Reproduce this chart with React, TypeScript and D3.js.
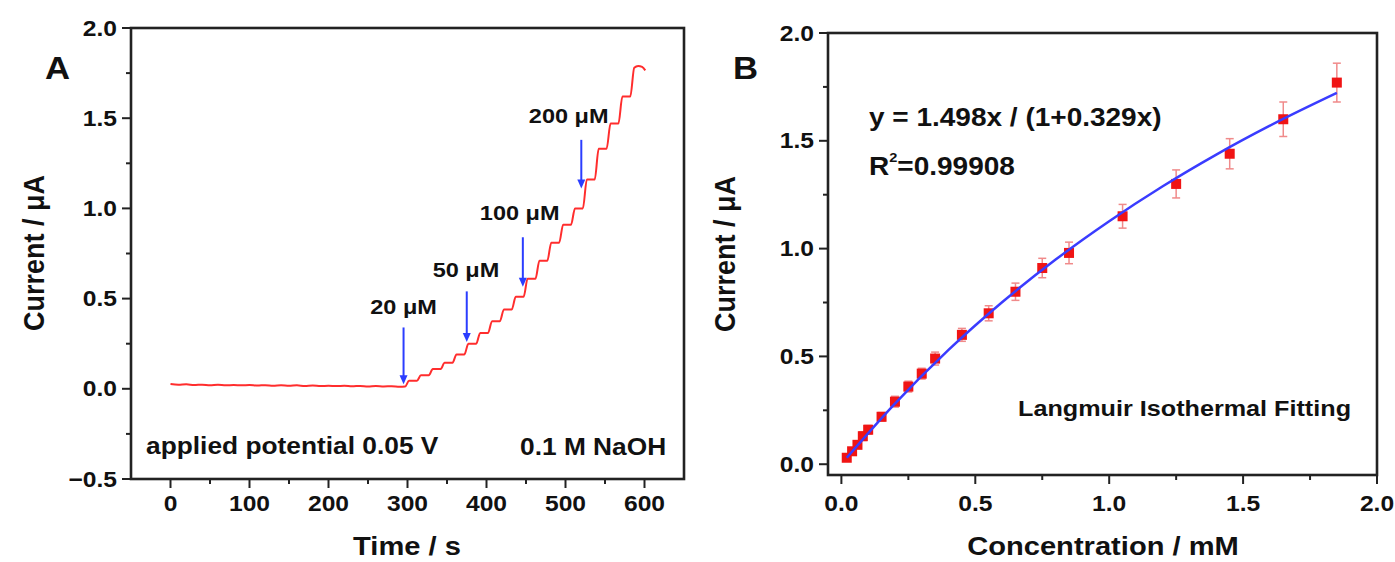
import React from "react";
import * as d3 from "d3";

// ---------- Panel A data (amperometric i-t trace) ----------
const baseTime = [0, 10, 20, 30, 40, 50, 60, 70, 80, 90, 100, 110, 120, 130, 140, 150, 160, 170, 180, 190, 200, 210, 220, 230, 240, 250, 260, 270, 280, 290, 297];
const baseCurrent = [0.026, 0.023, 0.025, 0.021, 0.023, 0.020, 0.022, 0.019, 0.021, 0.019, 0.021, 0.018, 0.020, 0.017, 0.019, 0.017, 0.019, 0.016, 0.018, 0.015, 0.017, 0.015, 0.017, 0.014, 0.016, 0.013, 0.015, 0.013, 0.014, 0.012, 0.013];
const stepTime = [297, 312, 327, 342, 357, 372, 387, 402, 417, 432, 447, 462, 477, 492, 507, 522, 537, 552, 567, 582];
const stepCurrent = [0.045, 0.075, 0.11, 0.145, 0.19, 0.25, 0.31, 0.375, 0.44, 0.51, 0.61, 0.71, 0.81, 0.91, 1.0, 1.16, 1.33, 1.47, 1.62, 1.78];
const endTime = [592, 597, 601];
const endCurrent = [1.79, 1.785, 1.765];

const arrowLabel = ["20 \u03bcM", "50 \u03bcM", "100 \u03bcM", "200 \u03bcM"];
const arrowTime = [295, 375, 446, 520];
const arrowTop = [0.34, 0.54, 0.84, 1.38];
const arrowTip = [0.025, 0.26, 0.565, 1.11];
const labelTime = [295, 374, 442, 504];
const labelCurrent = [0.455, 0.66, 0.975, 1.51];

const ticksAx = [0, 100, 200, 300, 400, 500, 600];
const ticksAy = [-0.5, 0.0, 0.5, 1.0, 1.5, 2.0];

// ---------- Panel B data (calibration) ----------
const concB = [0.02, 0.04, 0.06, 0.08, 0.10, 0.15, 0.20, 0.25, 0.30, 0.35, 0.45, 0.55, 0.65, 0.75, 0.85, 1.05, 1.25, 1.45, 1.65, 1.85];
const currB = [0.03, 0.06, 0.09, 0.13, 0.16, 0.22, 0.29, 0.36, 0.42, 0.49, 0.60, 0.70, 0.80, 0.91, 0.98, 1.15, 1.30, 1.44, 1.60, 1.77];
const errB = [0.015, 0.015, 0.015, 0.02, 0.02, 0.02, 0.025, 0.025, 0.025, 0.03, 0.03, 0.035, 0.04, 0.045, 0.05, 0.055, 0.065, 0.07, 0.08, 0.09];
const fitConc = [0.02, 0.2, 0.4, 0.6, 0.8, 1.0, 1.2, 1.4, 1.6, 1.85];
const fitCurr = [0.03, 0.281, 0.53, 0.751, 0.949, 1.127, 1.289, 1.436, 1.57, 1.722];

const ticksBx = [0.0, 0.5, 1.0, 1.5, 2.0];
const ticksBy = [0.0, 0.5, 1.0, 1.5, 2.0];

const SX = 1.12;
const FONT = "'Liberation Sans', Arial, Helvetica, sans-serif";

function T({ x, y, size, anchor = "start", children, rot = false }: any) {
  const tr = rot
    ? `translate(${x},${y}) rotate(-90) scale(1,${SX})`
    : `translate(${x},${y}) scale(${SX},1)`;
  return (
    <g transform={tr}>
      <text textAnchor={anchor} dominantBaseline="central" fontSize={size} fill="#111">
        {children}
      </text>
    </g>
  );
}

function mids(arr: number[]) {
  const out: number[] = [];
  for (let i = 0; i < arr.length - 1; i++) out.push((arr[i] + arr[i + 1]) / 2);
  return out;
}

function Frame({ x, y, majX, majY, fmtX, fmtY }: any) {
  const [x0, x1] = x.range();
  const [y0, y1] = y.range();
  const minX = mids(majX);
  const minY = mids(majY);
  return (
    <g>
      {majX.map((v: number) => (
        <line key={"mx" + v} x1={x(v)} x2={x(v)} y1={y0} y2={y0 + 9} stroke="#222" strokeWidth={2} />
      ))}
      {minX.map((v: number) => (
        <line key={"nx" + v} x1={x(v)} x2={x(v)} y1={y0} y2={y0 + 5} stroke="#222" strokeWidth={2} />
      ))}
      {majY.map((v: number) => (
        <line key={"my" + v} x1={x0} x2={x0 - 9} y1={y(v)} y2={y(v)} stroke="#222" strokeWidth={2} />
      ))}
      {minY.map((v: number) => (
        <line key={"ny" + v} x1={x0} x2={x0 - 5} y1={y(v)} y2={y(v)} stroke="#222" strokeWidth={2} />
      ))}
      <rect x={x0} y={y1} width={x1 - x0} height={y0 - y1} fill="none" stroke="#222" strokeWidth={2.6} />
      {majX.map((v: number) => (
        <T key={"lx" + v} x={x(v)} y={503} size={22} anchor="middle">{fmtX(v)}</T>
      ))}
      {majY.map((v: number) => (
        <T key={"ly" + v} x={x0 - 14} y={y(v)} size={22} anchor="end">{fmtY(v)}</T>
      ))}
    </g>
  );
}

export default function App() {
  const xA = d3.scaleLinear().domain([-50, 650]).range([131, 684]);
  const yA = d3.scaleLinear().domain([-0.5, 2.0]).range([479, 28]);
  const xB = d3.scaleLinear().domain([-0.05, 2.0]).range([828, 1377]);
  const yB = d3.scaleLinear().domain([-0.05, 2.0]).range([475, 33]);

  // build trace points from the read baseline and step levels
  const pts: [number, number][] = baseTime.map((t, i) => [t, baseCurrent[i]]);
  let prev = baseCurrent[baseCurrent.length - 1];
  stepTime.forEach((t, i) => {
    pts.push([t, prev]);
    pts.push([t + 5, stepCurrent[i]]);
    prev = stepCurrent[i];
  });
  endTime.forEach((t, i) => pts.push([t, endCurrent[i]]));
  const lineA = d3
    .line<[number, number]>()
    .x((d) => xA(d[0]))
    .y((d) => yA(d[1]))
    .curve(d3.curveMonotoneX);

  const lineB = d3
    .line<number>()
    .x((d, i) => xB(fitConc[i]))
    .y((d, i) => yB(fitCurr[i]))
    .curve(d3.curveMonotoneX);

  const f1 = d3.format(".1f");
  const f0 = d3.format("d");

  return (
    <svg
      width={1395}
      height={562}
      style={{ position: "absolute", left: 0, top: 0, background: "#fff" }}
      fontFamily={FONT}
      fontWeight="bold"
    >
      <rect width={1395} height={562} fill="#fff" />
      {/* ---------------- Panel A ---------------- */}
      <Frame x={xA} y={yA} majX={ticksAx} majY={ticksAy} fmtX={f0} fmtY={f1} />
      <path d={lineA(pts) || ""} fill="none" stroke="#ff2d2d" strokeWidth={2} />
      {arrowTime.map((t, i) => {
        const ax = xA(t);
        const yt = yA(arrowTop[i]);
        const yp = yA(arrowTip[i]);
        return (
          <g key={"ar" + i}>
            <line x1={ax} x2={ax} y1={yt} y2={yp - 6} stroke="#2b3dff" strokeWidth={2} />
            <path d={`M${ax - 4},${yp - 9} L${ax + 4},${yp - 9} L${ax},${yp} Z`} fill="#2b3dff" />
            <T x={xA(labelTime[i])} y={yA(labelCurrent[i])} size={21} anchor="middle">
              {arrowLabel[i]}
            </T>
          </g>
        );
      })}
      <T x={146} y={446} size={23.5}>applied potential 0.05 V</T>
      <T x={520} y={447} size={23.5}>0.1 M NaOH</T>
      <T x={407} y={546} size={26} anchor="middle">Time / s</T>
      <T x={33} y={253} size={27} anchor="middle" rot>Current / {"\u03bc"}A</T>
      <T x={45} y={68} size={31}>A</T>

      {/* ---------------- Panel B ---------------- */}
      <Frame x={xB} y={yB} majX={ticksBx} majY={ticksBy} fmtX={f1} fmtY={f1} />
      {concB.map((c, i) => {
        const cx = xB(c);
        const yt = yB(currB[i] + errB[i]);
        const yb = yB(currB[i] - errB[i]);
        return (
          <g key={"eb" + i} stroke="#f08a8a" strokeWidth={1.5}>
            <line x1={cx} x2={cx} y1={yt} y2={yb} />
            <line x1={cx - 4} x2={cx + 4} y1={yt} y2={yt} />
            <line x1={cx - 4} x2={cx + 4} y1={yb} y2={yb} />
          </g>
        );
      })}
      {concB.map((c, i) => (
        <rect key={"pt" + i} x={xB(c) - 5} y={yB(currB[i]) - 5} width={10} height={10} fill="#f01414" />
      ))}
      <path d={lineB(fitCurr) || ""} fill="none" stroke="#3a3cff" strokeWidth={2.5} />
      <T x={869} y={118} size={25}>y = 1.498x / (1+0.329x)</T>
      <g transform={`translate(869,167) scale(${SX},1)`}>
        <text dominantBaseline="central" fontSize={25} fill="#111">
          R<tspan fontSize={13} dy={-10}>2</tspan>
          <tspan dy={10}>=0.99908</tspan>
        </text>
      </g>
      <T x={1018} y={408} size={22.5}>Langmuir Isothermal Fitting</T>
      <T x={1103} y={546} size={26} anchor="middle">Concentration / mM</T>
      <T x={724} y={254} size={27} anchor="middle" rot>Current / {"\u03bc"}A</T>
      <T x={733} y={68} size={31}>B</T>
    </svg>
  );
}
